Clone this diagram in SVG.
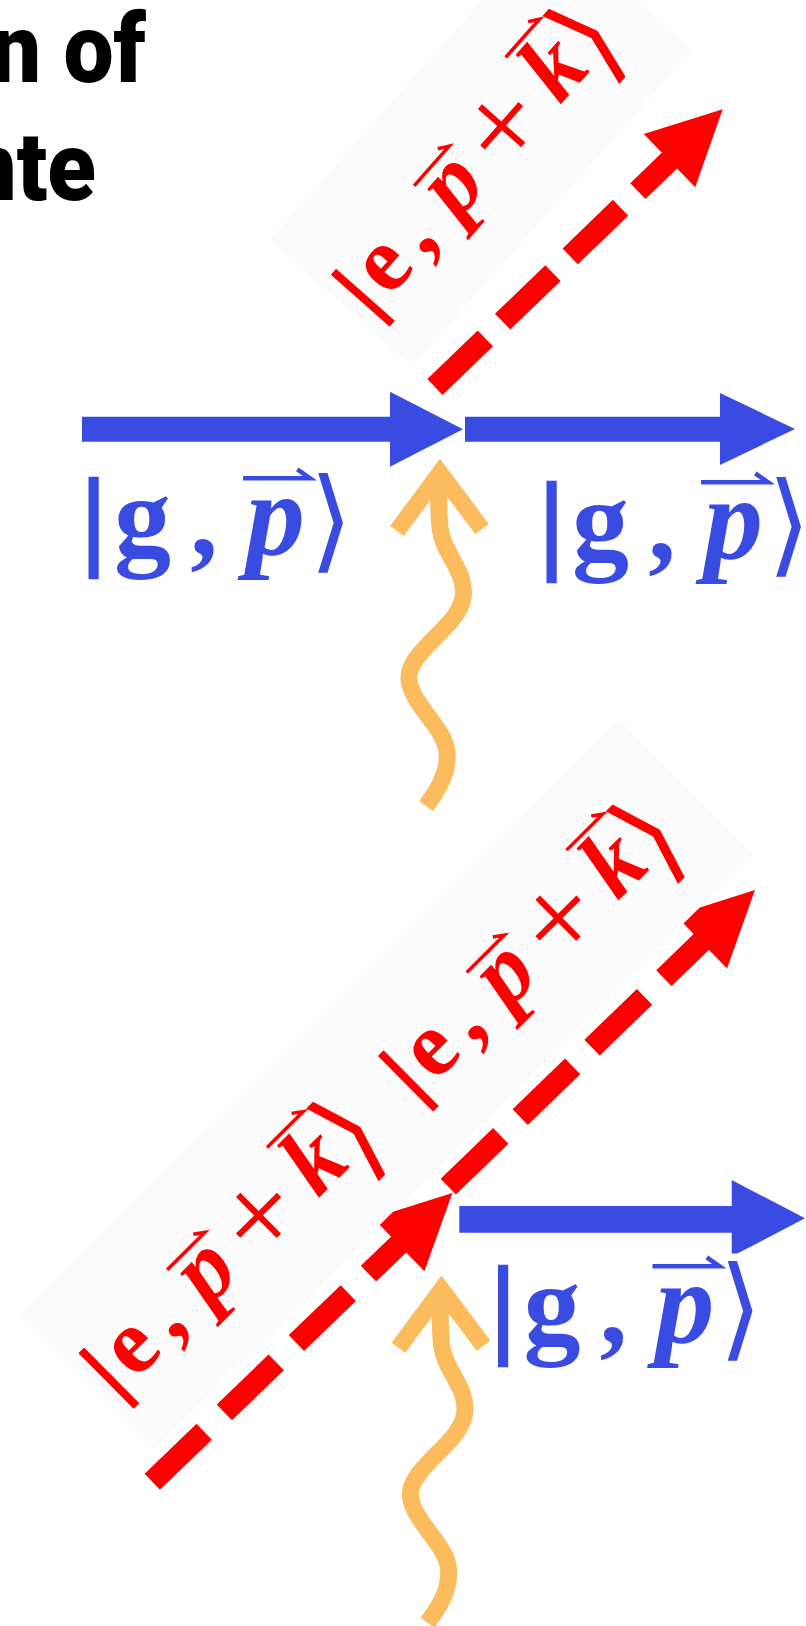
<svg xmlns="http://www.w3.org/2000/svg" xmlns:xlink="http://www.w3.org/1999/xlink" width="806" height="1626" viewBox="0 0 806 1626">
<defs>
<style>
.title{font-family:Roboto,"Liberation Sans",sans-serif;font-weight:900;font-size:96px;fill:#000}
.box{fill:#fbfbfb}
.ser{font-family:"Liberation Serif","DejaVu Serif",serif}
.b{font-weight:bold}
.bi{font-weight:bold;font-style:italic}
.ang{font-family:"DejaVu Sans",sans-serif;font-weight:normal;font-style:normal}
.rlab{font-size:84px;fill:#ff0000}
.blab{font-size:110px;fill:#3a4be2}
.rbar{stroke:#ff0000;stroke-width:2}
.bbar{stroke:#3a4be2;stroke-width:2.5}
.vr{fill:none;stroke:#ff0000;stroke-width:3.5}
.vb{fill:none;stroke:#3a4be2;stroke-width:4.5}
.dash{stroke:#ff0000;stroke-width:22;fill:none}
.rhead{fill:#ff0000}
.blue{fill:#3a4be2}
.photon{fill:none;stroke:#fcbb5c;stroke-width:17;stroke-linejoin:miter}
</style>
<g id="redlab">
<rect class="box" x="0" y="0" width="422" height="190"/>
<text class="ser rlab" y="128" text-anchor="middle"><tspan class="b rbar" x="18.2">|</tspan><tspan class="b" x="56" style="font-size:93px">e</tspan><tspan class="b" x="100.5" style="font-size:92px">,</tspan><tspan class="bi" x="162" style="font-size:96px">p</tspan><tspan x="239" y="139" style="font-size:124px">+</tspan><tspan class="bi" x="317" y="128" style="font-size:96px">k</tspan><tspan class="ang" x="361.5" y="143" style="font-size:115px">⟩</tspan></text>
<path class="vr" d="M136,72 H189 L179.5,65.2 M293,55.5 H344 L334.5,48.7"/>
</g>
<g id="bluelab">
<text class="ser blab" y="555" text-anchor="middle"><tspan class="b bbar" x="93.5">|</tspan><tspan class="b" x="142.5" style="font-size:114px">g</tspan><tspan class="b" x="204">,</tspan><tspan class="bi" x="275.5" style="font-size:118px">p</tspan><tspan class="ang" x="331" y="558" style="font-size:112px">⟩</tspan></text>
<path class="vb" d="M243,478.3 H310 L297.3,469.3"/>
</g>
<path id="photon" class="photon" d="M426,806 C438,790 449,772 447,752 C445,728 412,705 409,680 C406,652 458,628 463,598 C467,570 443,555 440,528 C438,510 439,490 439,472 M397,531 L440,473 L482,529"/>
</defs>

<g id="title">
<text class="title" transform="translate(146,82) scale(0.93,1)" text-anchor="end">n of</text>
<text class="title" transform="translate(96,200) scale(0.93,1)" text-anchor="end">nte</text>
</g>

<g id="label-e-top">
<use xlink:href="#redlab" href="#redlab" transform="translate(270,240) rotate(-48.5)"/>
</g>

<g id="connectors">
<g transform="translate(435,387) rotate(-44)">
<line class="dash" x1="0" y1="0" x2="327" y2="0" stroke-dasharray="70 24"/>
<polygon class="rhead" points="326,-37 400,0 326,37"/>
</g>
<g transform="translate(152.3,1481.7) rotate(-43.9)">
<line class="dash" x1="0" y1="0" x2="343" y2="0" stroke-dasharray="72 28"/>
<polygon class="rhead" points="342,-37 416.5,0 342,37"/>
</g>
<g transform="translate(448.3,1186.7) rotate(-44.05)">
<line class="dash" x1="0" y1="0" x2="353" y2="0" stroke-dasharray="73 27"/>
<polygon class="rhead" points="352,-37 426.7,0 352,37"/>
</g>
<polygon class="blue" points="82,416.7 390,416.7 390,391.7 463,429.2 390,466.7 390,441.7 82,441.7"/>
<polygon class="blue" points="465,416.7 720,416.7 720,393 795,429 720,465 720,441.7 465,441.7"/>
<polygon class="blue" points="459.3,1206 731.7,1206 731.7,1180 805,1218.3 731.7,1256.6 731.7,1232.7 459.3,1232.7"/>
<use xlink:href="#photon" href="#photon"/>
<use xlink:href="#photon" href="#photon" transform="translate(1.5,816.7)"/>
</g>

<g id="label-e-lower">
<use xlink:href="#redlab" href="#redlab" transform="translate(20,1314.5) rotate(-44.8)"/>
</g>
<g id="label-e-upper">
<use xlink:href="#redlab" href="#redlab" transform="translate(319.5,1017.2) rotate(-44.8)"/>
</g>

<g id="label-g-left">
<use xlink:href="#bluelab" href="#bluelab"/>
</g>
<g id="label-g-right">
<use xlink:href="#bluelab" href="#bluelab" transform="translate(458,4)"/>
</g>
<g id="label-g-bottom">
<rect x="490" y="1253.5" width="316" height="125" fill="#ffffff"/>
<use xlink:href="#bluelab" href="#bluelab" transform="translate(409.5,788)"/>
</g>
</svg>
